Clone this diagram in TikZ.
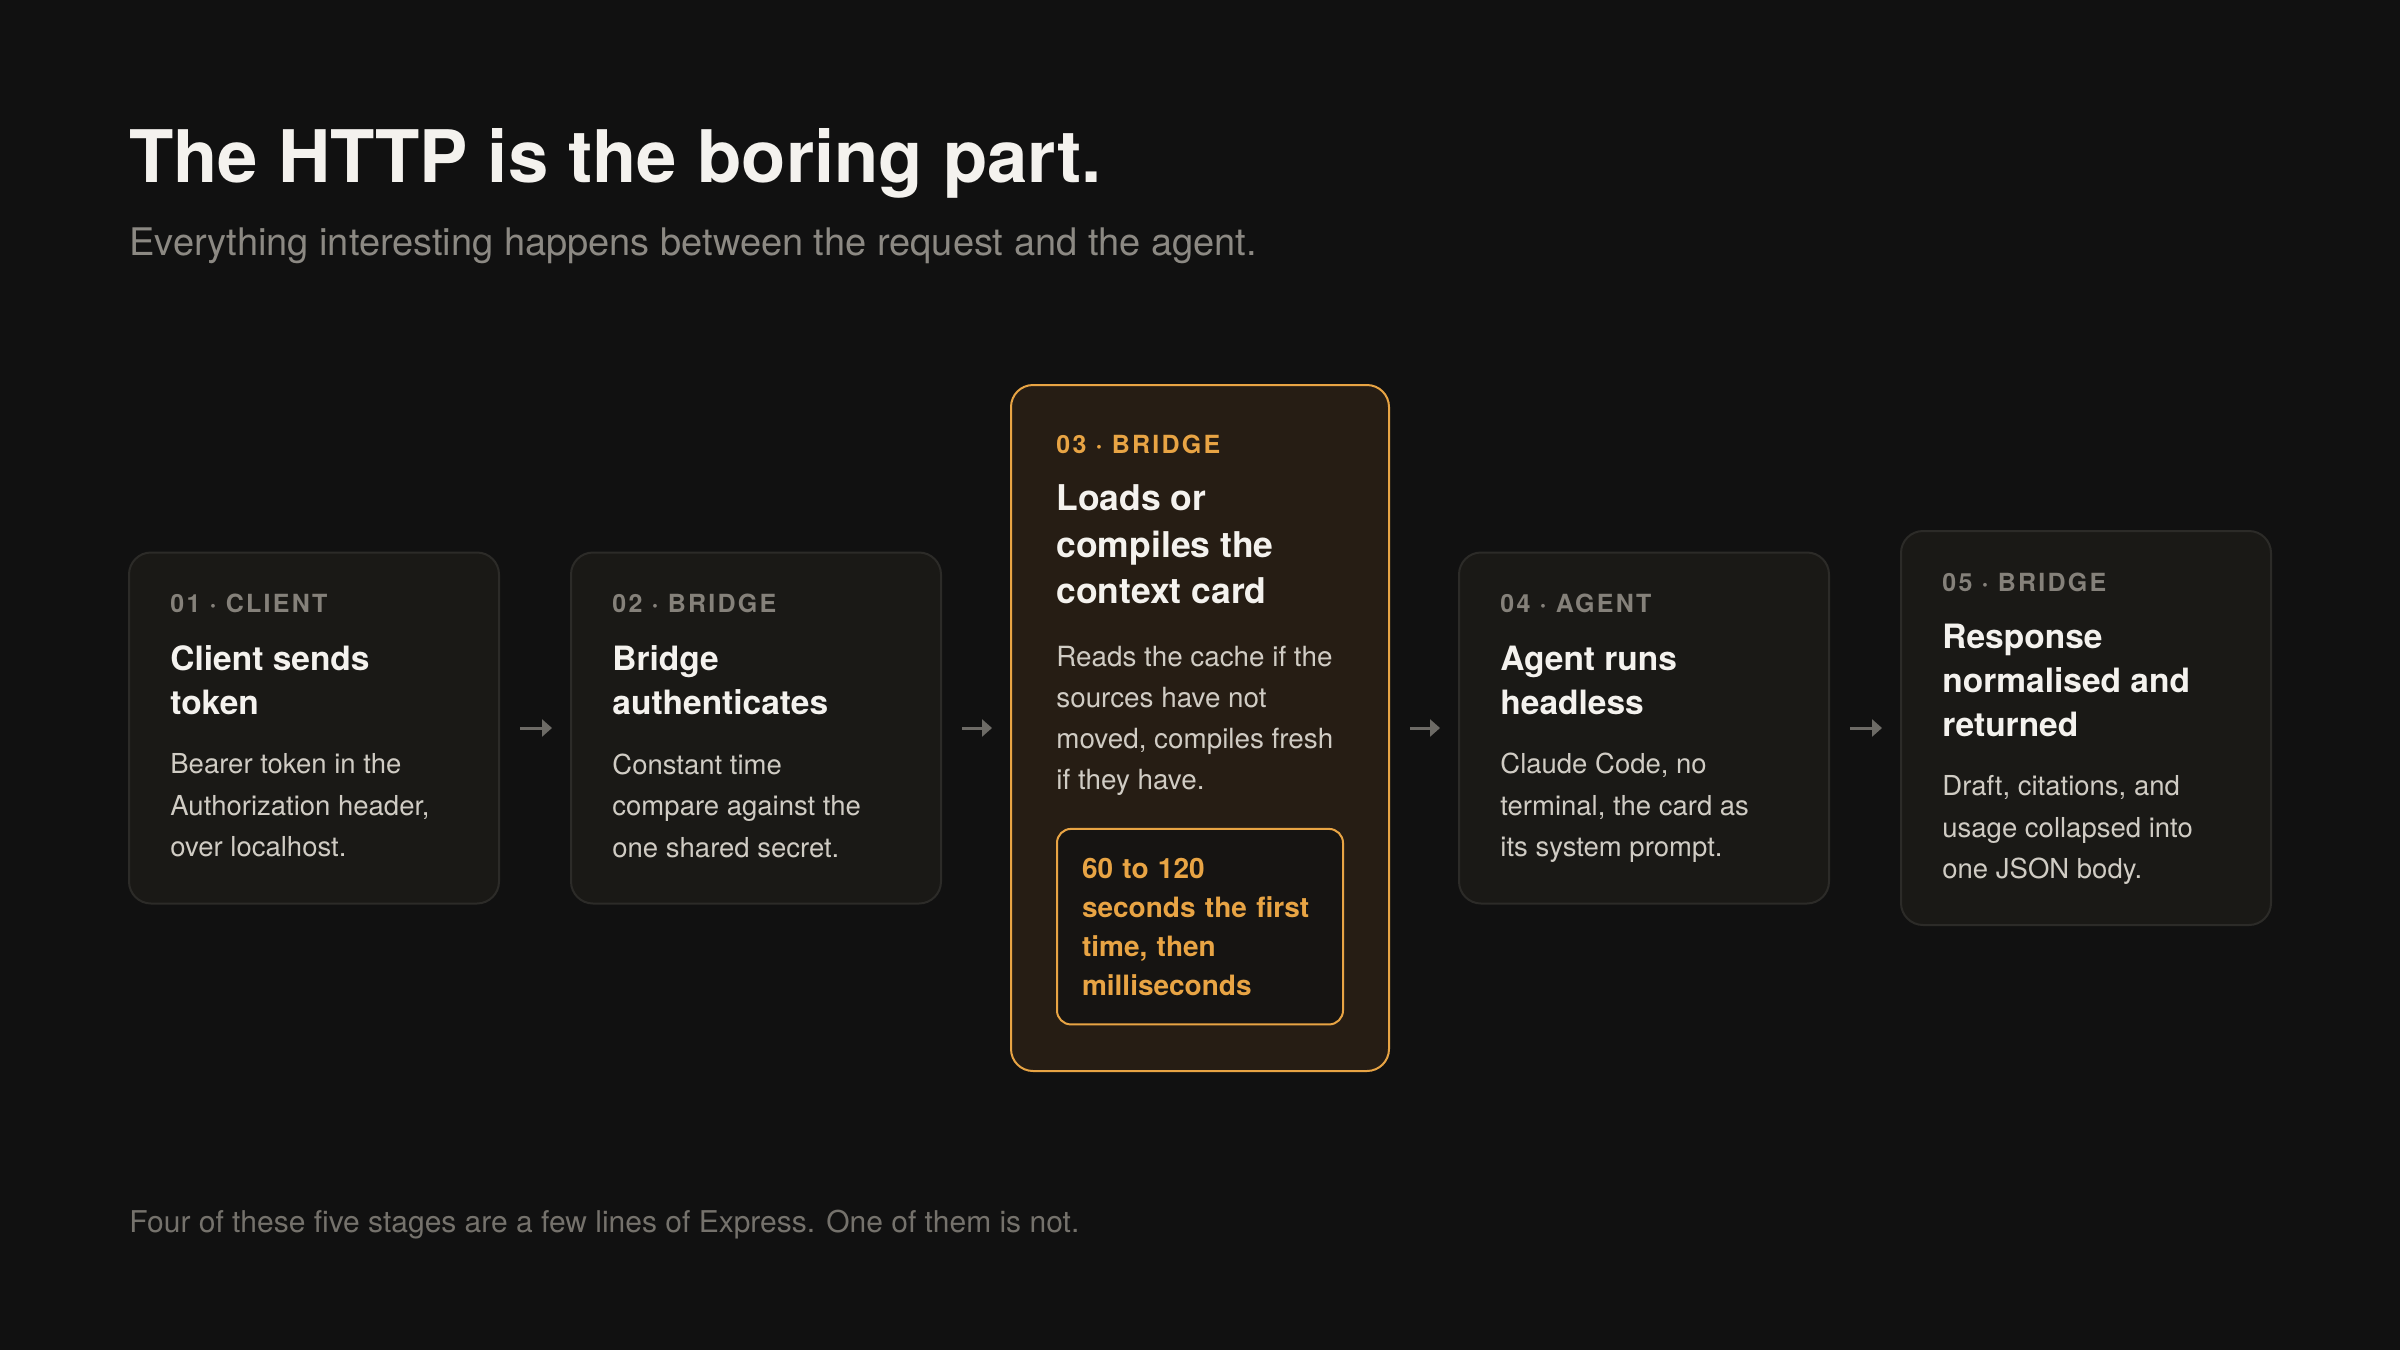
\documentclass[tikz,border=0pt]{standalone}
\usepackage{fontspec}
\setmainfont{TeX Gyre Heros}
\newfontfamily\tagfont{TeX Gyre Heros}[LetterSpace=9]
\usetikzlibrary{arrows.meta}

\definecolor{pageBg}{HTML}{111111}
\definecolor{cardFill}{HTML}{1A1916}
\definecolor{cardLine}{HTML}{2C2B28}
\definecolor{amber}{HTML}{E8A444}
\definecolor{amberFill}{HTML}{261D14}
\definecolor{noteFill}{HTML}{161412}
\definecolor{headWhite}{HTML}{F4F2EE}
\definecolor{bodyGray}{HTML}{D0CCC4}
\definecolor{tagGray}{HTML}{85817A}
\definecolor{subGray}{HTML}{8C8983}
\definecolor{footGray}{HTML}{75726C}
\definecolor{arrowGray}{HTML}{6D6B66}

\begin{document}
\begin{tikzpicture}
[x=0.5pt,y=-0.5pt,
  cardDecorate/.style={draw=cardLine,line width=1pt,fill=cardFill,rounded corners=11pt,minimum width=185pt,inner sep=0pt},%
  tagDecorate/.style={anchor=base west,inner sep=0pt,text=tagGray,font=\tagfont\bfseries\fontsize{12.5}{15}\selectfont},%
  headDecorate/.style={anchor=north west,inner sep=0pt,align=left,text=headWhite,font=\bfseries\fontsize{16.75}{22}\selectfont},%
  bodyDecorate/.style={anchor=north west,inner sep=0pt,align=left,text=bodyGray,font=\fontsize{13.75}{20.75}\selectfont},%
  noteDecorate/.style={anchor=north west,draw=amber,line width=1pt,fill=noteFill,rounded corners=7pt,text width=118pt,align=left,inner xsep=12.5pt,inner ysep=14.5pt,text=amber,font=\bfseries\fontsize{14}{19.5}\selectfont},%
  lineDecorate/.style={anchor=base west,inner sep=0pt},%
  arrowDecorate/.style={-{Triangle[width=8.5pt,length=5pt]},line width=1.5pt,draw=arrowGray,shorten <=10pt,shorten >=9pt}]
\fill[pageBg] (0,0) rectangle (2400,1350);
\useasboundingbox (0,0) rectangle (2400,1350);
%% heading
\node (headline) at (129,182) [lineDecorate,text=headWhite,font=\bfseries\fontsize{36.25}{40}\selectfont] {The HTTP is the boring part.};
\node (subline) at (129,255) [lineDecorate,text=subGray,font=\fontsize{19}{22}\selectfont] {Everything interesting happens between the request and the agent.};
%% plain stages
\foreach \card/\x/\h/\stage/\heading/\blurb in {
  client/314/175.5pt/{01 · CLIENT}/{Client sends\\token}/{Bearer token in the\\Authorization header,\\over localhost.},
  auth/756/175.5pt/{02 · BRIDGE}/{Bridge\\authenticates}/{Constant time\\compare against the\\one shared secret.},
  agent/1644/175.5pt/{04 · AGENT}/{Agent runs\\headless}/{Claude Code, no\\terminal, the card as\\its system prompt.},
  reply/2086/197pt/{05 · BRIDGE}/{Response\\normalised and\\returned}/{Draft, citations, and\\usage collapsed into\\one JSON body.}}
{
  \node (\card) at (\x,728) [cardDecorate,minimum height=\h] {};
  \node (\card-tag) at ([shift={(42,61)}]\card.north west) [tagDecorate] {\stage};
  \node (\card-head) at ([shift={(0,32)}]\card-tag.south west) [headDecorate] {\heading};
  \node (\card-body) at ([shift={(0,38)}]\card-head.south west) [bodyDecorate] {\blurb};
}
%% the stage that matters
\node (context) at (1200,728) [cardDecorate,draw=amber,fill=amberFill,minimum width=189pt,minimum height=343pt] {};
\node (context-tag) at ([shift={(46,69)}]context.north west) [tagDecorate,text=amber] {03 · BRIDGE};
\node (context-head) at ([shift={(0,31)}]context-tag.south west) [headDecorate,font=\bfseries\fontsize{17.75}{23.25}\selectfont] {Loads or\\compiles the\\context card};
\node (context-body) at ([shift={(0,41)}]context-head.south west) [bodyDecorate,font=\fontsize{13.9}{20.5}\selectfont] {Reads the cache if the\\sources have not\\moved, compiles fresh\\if they have.};
\node (timing) at ([shift={(0,32)}]context-body.south west) [noteDecorate] {60 to 120\\seconds the first\\time, then\\milliseconds};
%% arrows between stages
\path
\foreach \startnode/\endnode in {client/auth, auth/context, context/agent, agent/reply}
{
  (\startnode) edge[arrowDecorate] (\endnode)
};
%% footnote
\node (footline) at (129,1232) [lineDecorate,text=footGray,font=\fontsize{15}{18}\selectfont] {Four of these five stages are a few lines of Express. One of them is not.};
\end{tikzpicture}
\end{document}
